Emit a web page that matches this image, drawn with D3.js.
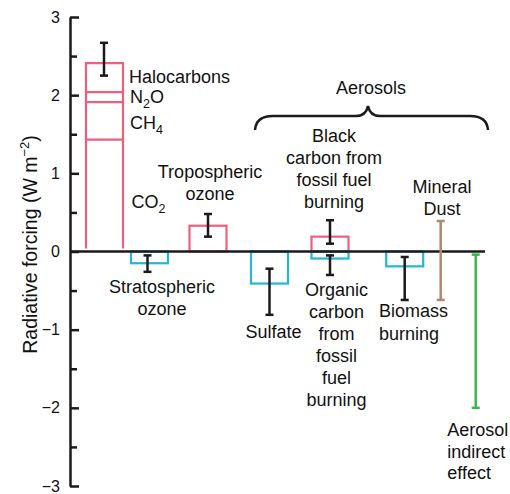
<!DOCTYPE html>
<html>
<head>
<meta charset="utf-8">
<script src="https://cdn.jsdelivr.net/npm/d3@7"></script>
<style>
  html, body { margin: 0; padding: 0; background: #fff; }
  svg { display: block; }
  text { font-family: "Liberation Sans", Arial, sans-serif; fill: #111; }
</style>
</head>
<body>
<svg id="chart" width="510" height="494"></svg>
<script>
// ---------------- DATA ----------------
// Long-lived greenhouse gases (stacked bar)
const ghgNames  = ["CO_2", "CH_4", "N_2O", "Halocarbons"];
const ghgValues = [1.43, 0.48, 0.13, 0.37];
const ghgError  = [2.25, 2.67];   // low, high of total

// Single bars
const barCategories = ["Stratospheric ozone", "Tropospheric ozone", "Sulfate",
                       "Black carbon", "Organic carbon", "Biomass burning"];
const barSlot       = ["stratO3", "tropO3", "sulfate", "carbon", "carbon", "biomass"];
const barValues     = [-0.15, 0.33, -0.41, 0.19, -0.09, -0.19];
const barErrLow     = [-0.26, 0.19, -0.81, 0.10, -0.30, -0.62];
const barErrHigh    = [-0.05, 0.48, -0.22, 0.40, -0.05, -0.07];

// Range-only bars
const rangeCategories = ["Mineral Dust", "Aerosol indirect effect"];
const rangeSlot       = ["dust", "indirect"];
const rangeLow        = [-0.62, -2.0];
const rangeHigh       = [0.39, 0.0];

// Axis
const yTicks      = [-3, -2, -1, 0, 1, 2, 3];
const yMinorTicks = [-2.5, -1.5, -0.5, 0.5, 1.5, 2.5];
const yTitle      = "Radiative forcing (W m";
const yTitleSup   = "−2";

// ---------------- LAYOUT ----------------
const svg = d3.select("#chart");
const PINK = "#ef5f7c", CYAN = "#25b5d6", BROWN = "#b0886f", GREEN = "#3db54b", INK = "#1a1a1a";

const slots = ["ghg", "stratO3", "tropO3", "sulfate", "carbon", "biomass", "dust", "indirect"];
const x = d3.scaleOrdinal().domain(slots).range([104, 149.5, 208, 269.5, 330, 404.7, 440.7, 475.7]);
const barW = 37;
const y = d3.scaleLinear().domain([-3, 3]).range([486, 17]);
const axisX = 70;

// Axis (ticks pointing inward)
const minorAxis = d3.axisLeft(y).tickValues(yMinorTicks).tickSize(-7).tickSizeOuter(0).tickFormat("");
svg.append("g").attr("transform", `translate(${axisX},0)`).call(minorAxis)
  .call(g => g.select(".domain").remove())
  .call(g => g.selectAll(".tick line").attr("stroke", INK).attr("stroke-width", 2.5));

const majorAxis = d3.axisLeft(y).tickValues(yTicks).tickSize(-9).tickSizeOuter(0).tickPadding(10)
  .tickFormat(d3.format("d"));
svg.append("g").attr("transform", `translate(${axisX},0)`).call(majorAxis)
  .call(g => g.select(".domain").attr("stroke", INK).attr("stroke-width", 2.5))
  .call(g => g.selectAll(".tick line").attr("stroke", INK).attr("stroke-width", 2.5))
  .call(g => g.selectAll(".tick text").attr("font-size", 16).attr("fill", "#111")
        .style("font-family", "Liberation Sans, Arial, sans-serif"));

// Y title
const yt = svg.append("text")
  .attr("transform", `translate(37,${(y(3) + y(-3)) / 2 - 7}) rotate(-90)`)
  .attr("text-anchor", "middle").attr("font-size", 19.5);
yt.append("tspan").text(yTitle);
yt.append("tspan").attr("dy", -8).attr("font-size", 13).text(yTitleSup);
yt.append("tspan").attr("dy", 8).text(")");

// Stacked GHG bar (open-bottom segments)
let cum = 0;
const stack = ghgValues.map(v => { const s = { y0: cum, y1: cum + v }; cum += v; return s; });
const gx0 = x("ghg") - barW / 2 + 0.5, gx1 = gx0 + barW;
svg.append("g").selectAll("path").data(stack).join("path")
  .attr("d", d => {
    const b = y(d.y0) - (d.y0 === 0 ? 3 : 0), t = y(d.y1);
    return `M${gx0},${b}L${gx0},${t}L${gx1},${t}L${gx1},${b}`;
  })
  .attr("fill", "none").attr("stroke", PINK).attr("stroke-width", 2.2);

// Single bars
const bars = barValues.map((v, i) => ({ v, slot: barSlot[i], lo: barErrLow[i], hi: barErrHigh[i] }));
svg.append("g").selectAll("rect").data(bars).join("rect")
  .attr("x", d => x(d.slot) - barW / 2).attr("width", barW)
  .attr("y", d => y(Math.max(0, d.v))).attr("height", d => Math.abs(y(d.v) - y(0)))
  .attr("fill", "none").attr("stroke", d => d.v > 0 ? PINK : CYAN).attr("stroke-width", 2.2);

// Zero line
svg.append("line").attr("x1", axisX).attr("x2", 485).attr("y1", y(0)).attr("y2", y(0))
  .attr("stroke", INK).attr("stroke-width", 2.5);

// Error bars helper
function errBar(g, cx, lo, hi, color, cap) {
  g.append("line").attr("x1", cx).attr("x2", cx).attr("y1", y(lo)).attr("y2", y(hi))
    .attr("stroke", color).attr("stroke-width", 2.5);
  [lo, hi].forEach(v => g.append("line").attr("x1", cx - cap / 2).attr("x2", cx + cap / 2)
    .attr("y1", y(v)).attr("y2", y(v)).attr("stroke", color).attr("stroke-width", 2.5));
}
const eg = svg.append("g");
errBar(eg, x("ghg"), ghgError[0], ghgError[1], INK, 8);
bars.forEach(d => errBar(eg, x(d.slot) + (d.slot === "stratO3" ? -2 : 0), d.lo, d.hi, INK, 8));
rangeLow.forEach((lo, i) => errBar(eg, x(rangeSlot[i]), lo, rangeHigh[i] - (i === 1 ? 0.04 : 0),
  i === 0 ? BROWN : GREEN, 8));

// Brace over aerosols
const bY = 116, bL = 255, bR = 488, bM = 368;
const bp = d3.path();
bp.moveTo(bL, bY + 14);
bp.quadraticCurveTo(bL + 1, bY, bL + 18, bY);
bp.lineTo(bM - 12, bY);
bp.quadraticCurveTo(bM - 2, bY, bM, bY - 10);
bp.quadraticCurveTo(bM + 2, bY, bM + 12, bY);
bp.lineTo(bR - 18, bY);
bp.quadraticCurveTo(bR - 1, bY, bR, bY + 14);
svg.append("path").attr("d", bp.toString()).attr("fill", "none").attr("stroke", INK).attr("stroke-width", 2.5);

// ---------------- LABELS ----------------
function addLabel(lines, xx, yy, anchor, lh) {
  const t = svg.append("text").attr("font-size", 18).attr("text-anchor", anchor);
  lines.forEach((ln, i) => {
    const parts = ln.split(/_(\d)/);
    let first = true;
    const base = yy + i * lh;
    parts.forEach((p, k) => {
      if (p === "") return;
      const ts = t.append("tspan");
      if (first) { ts.attr("x", xx).attr("y", base); first = false; }
      if (k % 2 === 1) ts.attr("font-size", 12.5).attr("dy", 5).text(p);
      else { if (k > 0) ts.attr("dy", -5); ts.text(p); }
    });
  });
}
addLabel([ghgNames[3]], 129, 83, "start", 0);
addLabel([ghgNames[2]], 130, 102.5, "start", 0);
addLabel([ghgNames[1]], 130, 128.5, "start", 0);
addLabel([ghgNames[0]], 131.5, 208, "start", 0);
addLabel(["Tropospheric", "ozone"], 210, 177.7, "middle", 22.5);
addLabel(["Stratospheric", "ozone"], 162, 293.3, "middle", 21.5);
addLabel(["Aerosols"], 371, 94, "middle", 0);
addLabel(["Black", "carbon from", "fossil fuel", "burning"], 334, 141.7, "middle", 22);
addLabel(["Mineral", "Dust"], 442, 193.3, "middle", 21.7);
addLabel(["Sulfate"], 273.5, 338.3, "middle", 0);
addLabel(["Organic", "carbon", "from", "fossil", "fuel", "burning"], 336.5, 295.7, "middle", 22);
addLabel(["Biomass", "burning"], 379, 317.3, "start", 22.7);
addLabel(["Aerosol", "indirect", "effect"], 447.3, 435.7, "start", 21.8);
</script>
</body>
</html>
